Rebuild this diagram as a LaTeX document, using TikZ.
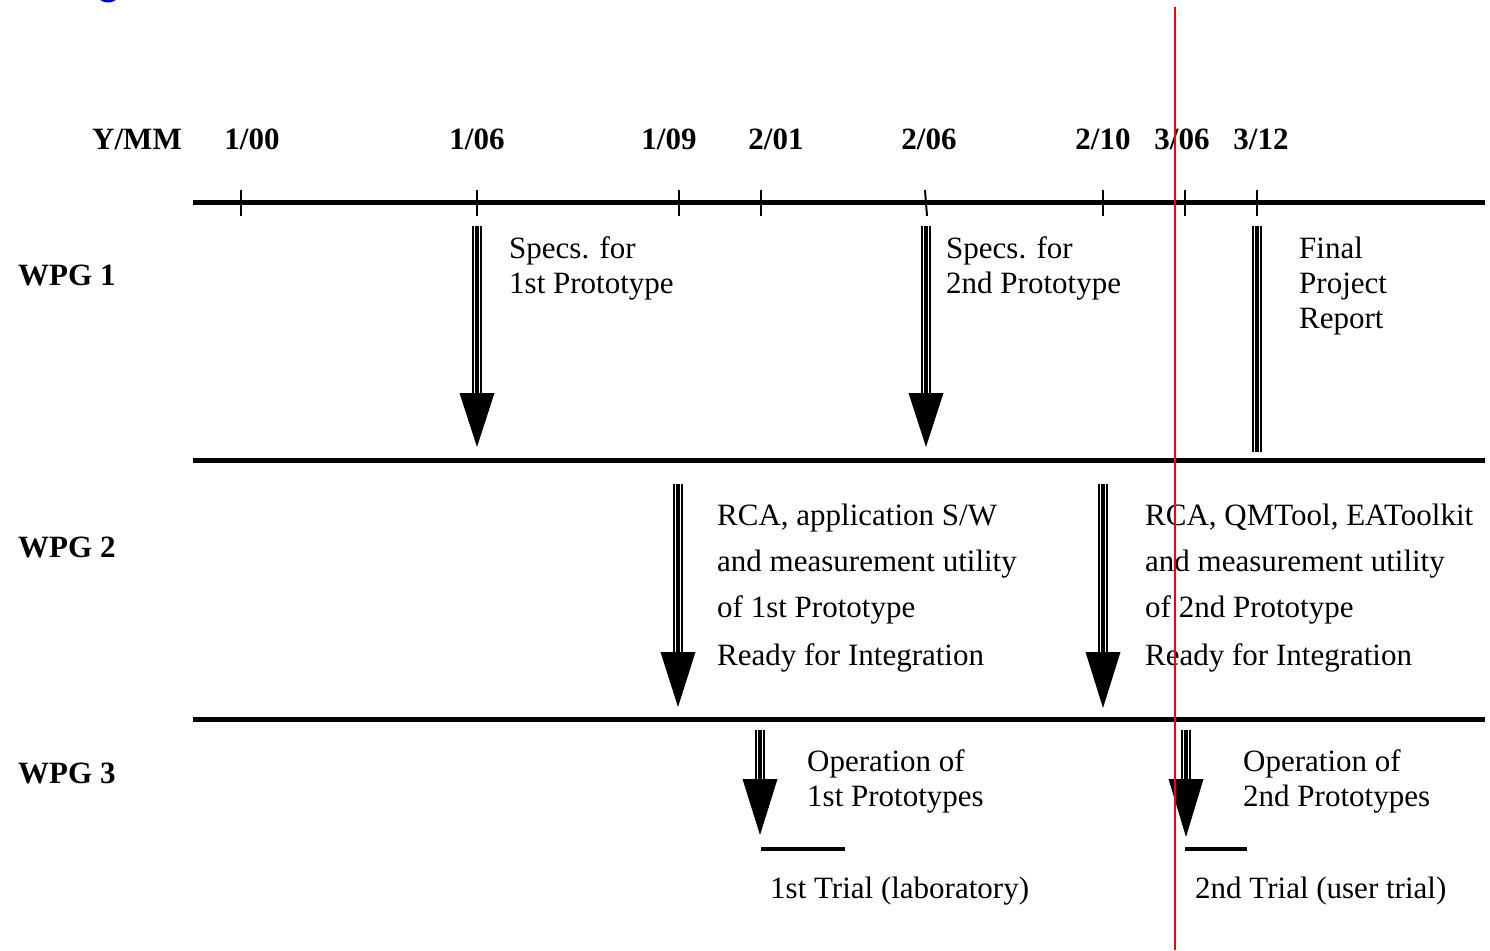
\documentclass[tikz,border=0pt]{standalone}
\usepackage{fontspec}
\setmainfont{Liberation Serif}
% milestone arrow: x, top of shaft, top of head, tip
\newcommand\shaftArrow[4]{%
  \fill[black] (#1-5,#2) rectangle (#1+5,#3+1);
  \draw[white, line width=0.9pt] (#1-2.6,#2) -- (#1-2.6,#3);
  \draw[white, line width=0.9pt] (#1+2.6,#2) -- (#1+2.6,#3);
  \fill[black] (#1-17.5,#3) -- (#1+17.5,#3) -- (#1,#4) -- cycle;
}
\begin{document}
\begin{tikzpicture}[x=1pt,y=-1pt,
  every node/.style={inner sep=0pt, font=\fontsize{31}{35}\selectfont},
  lbl/.style={anchor=base west},
  datelbl/.style={anchor=base, font=\fontsize{31}{35}\selectfont\bfseries},
  wpg/.style={anchor=base west, font=\fontsize{31}{35}\selectfont\bfseries},
  rule/.style={line width=5pt},
  tickmark/.style={line width=2pt}]
\useasboundingbox (0,0) rectangle (1490,950);

% fragment of a heading above the chart
\fill[blue!80!black] (108,-3) ellipse (9 and 5.5);

% axis labels
\node[datelbl] (ymm) at (137,149) {Y/MM};
\node[datelbl] (d100) at (252,149) {1/00};
\node[datelbl] (d106) at (477,149) {1/06};
\node[datelbl] (d109) at (669,149) {1/09};
\node[datelbl] (d201) at (776,149) {2/01};
\node[datelbl] (d206) at (929,149) {2/06};
\node[datelbl] (d210) at (1103,149) {2/10};
\node[datelbl] (d306) at (1182,149) {3/06};
\node[datelbl] (d312) at (1261,149) {3/12};

% time axis and ticks
\draw[rule] (193,202) -- (1485,202);
\foreach \tx in {241,477,679,761,1103,1185,1257}
  \draw[tickmark] (\tx,190) -- (\tx,216);
\draw[tickmark] (925,190) -- (927,216);

% work package separators
\draw[rule] (193,460) -- (1485,460);
\draw[rule] (193,719) -- (1485,719);

% work package names
\node[wpg] (w1) at (18,285) {WPG 1};
\node[wpg] (w2) at (18,557) {WPG 2};
\node[wpg] (w3) at (18,783) {WPG 3};

% WPG 1
\shaftArrow{477}{226}{393}{447}
\shaftArrow{926}{226}{393}{447}
\fill[black] (1252,226) rectangle (1262,452);
\draw[white, line width=0.9pt] (1254.4,226) -- (1254.4,452);
\draw[white, line width=0.9pt] (1259.6,226) -- (1259.6,452);
\node[lbl] (s1a) at (509,258) {Specs. for};
\node[lbl] (s1b) at (509,293) {1st Prototype};
\node[lbl] (s2a) at (946,258) {Specs. for};
\node[lbl] (s2b) at (946,293) {2nd Prototype};
\node[lbl] (f1) at (1299,258) {Final};
\node[lbl] (f2) at (1299,293) {Project};
\node[lbl] (f3) at (1299,328) {Report};

% WPG 2
\shaftArrow{678}{484}{652}{707}
\shaftArrow{1103}{484}{652}{708}
\node[lbl] (r1a) at (717,525) {RCA, application S/W};
\node[lbl] (r1b) at (717,571) {and measurement utility};
\node[lbl] (r1c) at (717,617) {of 1st Prototype};
\node[lbl] (r1d) at (717,665) {Ready for Integration};
\node[lbl] (r2a) at (1145,525) {RCA, QMTool, EAToolkit};
\node[lbl] (r2b) at (1145,571) {and measurement utility};
\node[lbl] (r2c) at (1145,617) {of 2nd Prototype};
\node[lbl] (r2d) at (1145,665) {Ready for Integration};

% WPG 3
\shaftArrow{760}{730}{779}{835}
\shaftArrow{1186}{730}{779}{837}
\draw[line width=4pt] (761,849) -- (845,849);
\draw[line width=4pt] (1185,849) -- (1247,849);
\node[lbl] (o1a) at (807,771) {Operation of};
\node[lbl] (o1b) at (807,806) {1st Prototypes};
\node[lbl] (o2a) at (1243,771) {Operation of};
\node[lbl] (o2b) at (1243,806) {2nd Prototypes};
\node[lbl] (t1) at (770,898) {1st Trial (laboratory)};
\node[lbl] (t2) at (1195,898) {2nd Trial (user trial)};

% current date marker
\draw[red, line width=2pt] (1175,7) -- (1175,950);
\end{tikzpicture}
\end{document}
